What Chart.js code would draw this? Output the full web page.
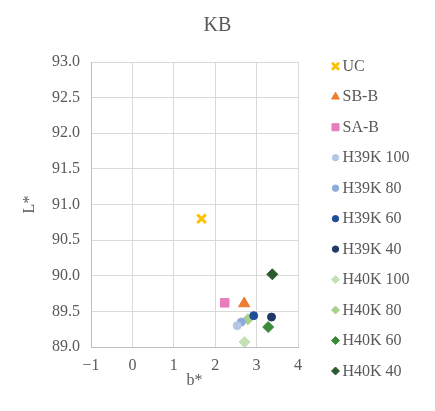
<!DOCTYPE html>
<html><head><meta charset="utf-8">
<script src="https://cdn.jsdelivr.net/npm/chart.js@4/dist/chart.umd.min.js"></script>
<style>html,body{margin:0;padding:0;background:#fff}#wrap{width:435px;height:411px;position:relative}</style>
</head><body><div id="wrap"><canvas id="c" width="435" height="411"></canvas></div>
<script>
const seriesNames = ["UC","SB-B","SA-B","H39K 100","H39K 80","H39K 60","H39K 40","H40K 100","H40K 80","H40K 60","H40K 40"];
const bValues = [1.67, 2.70, 2.23, 2.53, 2.63, 2.93, 3.36, 2.71, 2.79, 3.28, 3.38];
const lValues = [90.80, 89.61, 89.62, 89.30, 89.35, 89.44, 89.42, 89.07, 89.39, 89.28, 90.02];
const xTicks = [-1, 0, 1, 2, 3, 4];
const yTicks = [89.0, 89.5, 90.0, 90.5, 91.0, 91.5, 92.0, 92.5, 93.0];
const colors = ["#FFC000","#ED7D31","#E97CBB","#B4C7E7","#8FAADC","#1F4E99","#1F3864","#C5E0B4","#A9D18E","#3B8A3B","#2D5A2D"];
const shapes = ["crossRot","triangle","rect","circle","circle","circle","circle","rectRot","rectRot","rectRot","rectRot"];
const radii = [6,6.5,6,4,4,4,4,5.5,5.5,5.5,5.5];
const legendRadii = [5,4.5,5,3.2,3.2,3.2,3.2,4,4,4,4];

const datasets = seriesNames.map((n,i)=>({
  label:n,
  data:[{x:bValues[i],y:lValues[i]}],
  pointStyle:shapes[i],
  pointRadius:radii[i],
  backgroundColor:colors[i],
  borderColor:colors[i],
  borderWidth: shapes[i]==="crossRot"?3:1,
  showLine:false
}));
const FAM = "'Liberation Serif','Times New Roman',serif";
const font = {family:FAM};

const sideLegend = {
  id:'sideLegend',
  afterDraw(chart){
    const ctx = chart.ctx;
    const helpers = Chart.helpers;
    ctx.save();
    chart.data.datasets.forEach((ds,i)=>{
      const y = 66.3 + i*30.47;
      const x = 335.5;
      ctx.fillStyle = ds.backgroundColor;
      ctx.strokeStyle = ds.borderColor;
      ctx.lineWidth = ds.pointStyle==='crossRot'?2.8:1;
      helpers.drawPoint(ctx,{pointStyle:ds.pointStyle,radius:legendRadii[i],borderWidth:ctx.lineWidth,rotation:0},x,y);
      ctx.fillStyle = '#595959';
      ctx.font = "16px "+FAM;
      ctx.textBaseline = 'middle';
      ctx.textAlign = 'left';
      ctx.fillText(ds.label, 342.5, y+0.5);
    });
    ctx.restore();
  }
};

new Chart(document.getElementById('c'),{
  type:'scatter',
  data:{datasets},
  plugins:[sideLegend],
  options:{
    responsive:false,animation:false,
    layout:{padding:{left:0,right:0,top:0,bottom:0}},
    plugins:{
      title:{display:true,text:'KB',color:'#595959',font:{...font,size:20,weight:'normal'},padding:{top:13.5,bottom:24.5}},
      tooltip:{enabled:false},
      legend:{display:false}
    },
    scales:{
      x:{type:'linear',min:-1,max:4,
        afterBuildTicks:ax=>{ax.ticks=xTicks.map(v=>({value:v}));},
        afterFit:ax=>{ax.height=64;},
        ticks:{color:'#595959',font:{...font,size:16},callback:v=>v<0?'\u2212'+Math.abs(v):String(v),padding:9},
        grid:{color:'#D9D9D9',drawTicks:false},border:{color:'#BFBFBF'},
        title:{display:true,text:'b*',color:'#595959',font:{...font,size:16},padding:{top:0,bottom:21}}},
      y:{type:'linear',min:89,max:93,
        afterBuildTicks:ax=>{ax.ticks=yTicks.map(v=>({value:v}));},
        afterFit:ax=>{ax.width=91;},
        ticks:{color:'#595959',font:{...font,size:16},callback:v=>v.toFixed(1),padding:11},
        grid:{color:'#D9D9D9',drawTicks:false},border:{color:'#BFBFBF'},
        title:{display:true,text:'L*',color:'#595959',font:{...font,size:16},padding:{top:20,bottom:12}}},
      legendSpace:{type:'linear',position:'right',display:true,
        afterFit:ax=>{ax.width=137;},
        ticks:{display:false},grid:{display:false},border:{display:false}}
    }
  }
});
</script></body></html>
